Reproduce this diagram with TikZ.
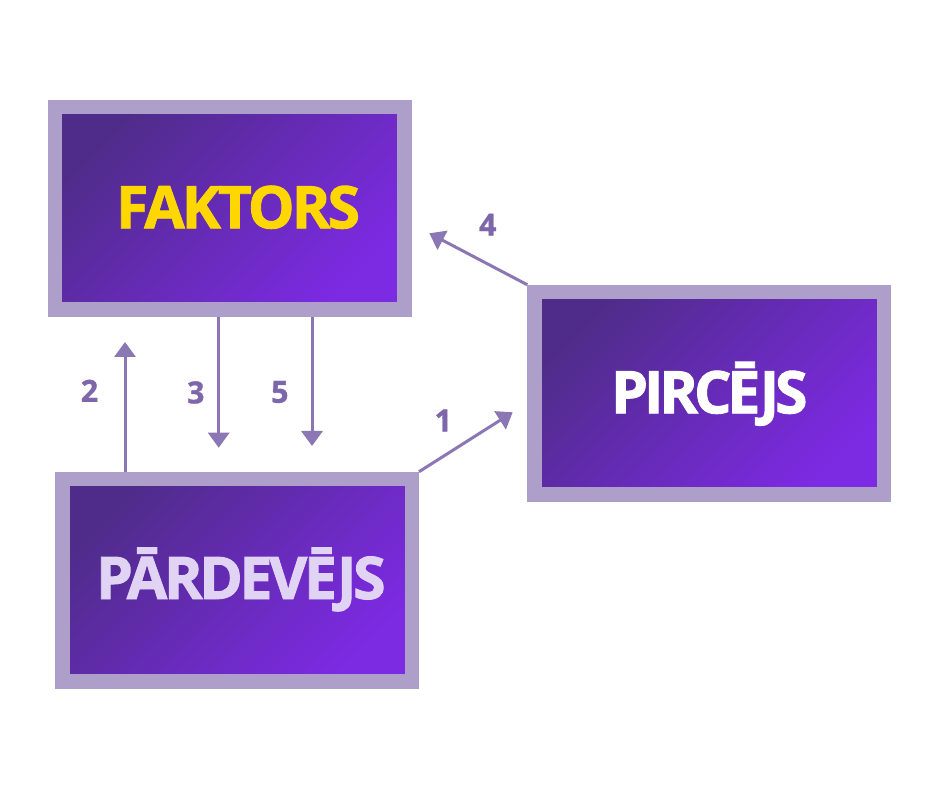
\documentclass[tikz,border=0pt]{standalone}
\usepackage{fontspec}
\setmainfont{Open Sans}
\newfontfamily\fakfont{Open Sans}[LetterSpace=-5, BoldFeatures={FakeBold=1.5}]
\newfontfamily\pircfont{Open Sans}[LetterSpace=-7, BoldFeatures={FakeBold=1.5}]
\newfontfamily\pardfont{Open Sans}[LetterSpace=-5.7, BoldFeatures={FakeBold=1.5}]
\newfontfamily\numfont{Open Sans}[BoldFeatures={FakeBold=1}]
\usetikzlibrary{arrows.meta,calc}
\definecolor{bordercol}{HTML}{AE9FCA}
\definecolor{arrowcol}{HTML}{8B77B4}
\definecolor{labelcol}{HTML}{7E66AB}
\definecolor{gdark}{HTML}{4F2C8A}
\definecolor{gbright}{HTML}{7D2AE3}
\definecolor{goldtext}{HTML}{FFD700}
\definecolor{lavtext}{HTML}{E1D3F3}
\tikzset{
  box/.style={draw=bordercol, line width=14.5pt, minimum width=349.5pt, minimum height=202.5pt,
    inner sep=0pt, top color=gdark, bottom color=gbright, shading angle=45},
  boxtext/.style={anchor=base, inner sep=0pt},
  conn/.style={draw=arrowcol, line width=3pt, -{Triangle[width=21pt,length=15pt]}},
  numlabel/.style={font=\fontsize{30.5}{32}\selectfont\numfont\bfseries, text=labelcol, inner sep=0pt}
}
\begin{document}
\begin{tikzpicture}[x=1pt,y=1pt]
\useasboundingbox[fill=white] (0,0) rectangle (940,788);
\node[box] (fak) at (229.75,579.5) {};
\node[box] (pirc) at (709.25,394.75) {};
\node[box] (pard) at (237,207.75) {};
\node[boxtext, text=goldtext, font=\fontsize{58.8}{60}\selectfont\fakfont\bfseries] (faktxt) at (238,559.7) {FAKTORS};
\node[boxtext, text=white, font=\fontsize{58.8}{60}\selectfont\pircfont\bfseries] (pirctxt) at (709.3,374.7) {PIRCĒJS};
\node[boxtext, text=lavtext, font=\fontsize{58.8}{60}\selectfont\pardfont\bfseries] (pardtxt) at (240.8,189) {PĀRDEVĒJS};
\coordinate (tip2) at (125,446);
\coordinate (tip3) at (218.7,340.3);
\coordinate (tip5) at (312,342);
\coordinate (tip1) at (512.7,375.7);
\coordinate (tip4) at (429.3,554.7);
\draw[conn] (pard.north -| tip2) -- (tip2);
\draw[conn] (fak.south -| tip3) -- (tip3);
\draw[conn] (fak.south -| tip5) -- (tip5);
\draw[conn] (pard.north east) -- (tip1);
\draw[conn] (pirc.north west) -- (tip4);
\node[numlabel] (l2) at (89.5,397.2) {2};
\node[numlabel] (l3) at (195.8,395.5) {3};
\node[numlabel] (l5) at (279.8,396) {5};
\node[numlabel] (l1) at (443.3,367.5) {1};
\node[numlabel] (l4) at (487.7,563.3) {4};
\end{tikzpicture}
\end{document}
